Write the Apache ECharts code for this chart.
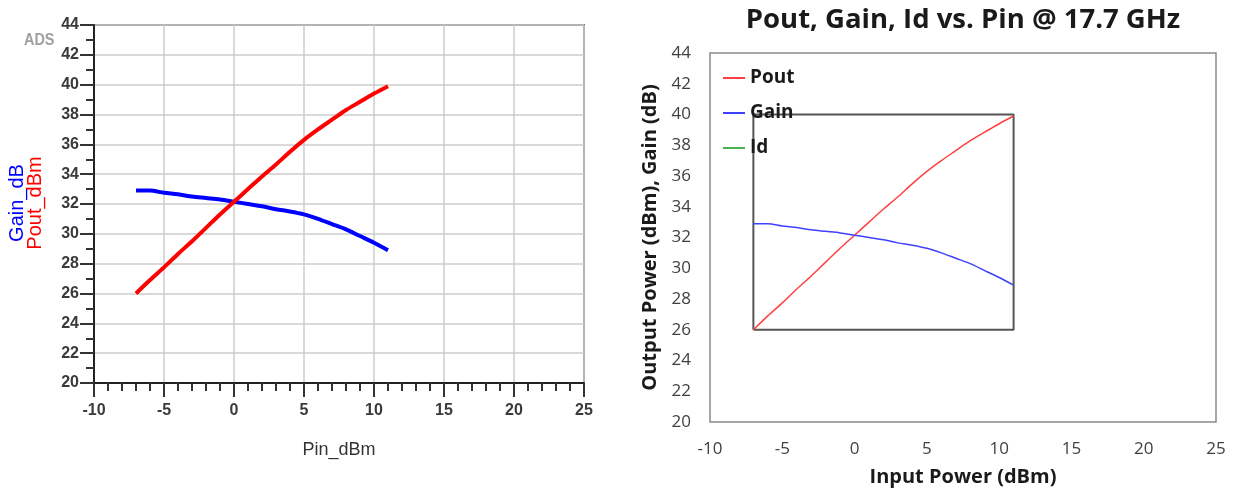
<!DOCTYPE html>
<html>
<head>
<meta charset="utf-8">
<style>
  html, body { margin: 0; padding: 0; background: #fff; }
  #chart { width: 1238px; height: 489px; }
</style>
<script src="https://cdn.jsdelivr.net/npm/echarts@6/dist/echarts.min.js"></script>
</head>
<body>
<div id="chart"></div>
<script>
// Input power sweep (dBm)
const pinDbm  = [-7, -6, -5, -4, -3, -2, -1, 0, 1, 2, 3, 4, 5, 6, 7, 8, 9, 10, 11];
// Output power (dBm)
const poutDbm = [26.0, 26.9, 27.75, 28.65, 29.5, 30.4, 31.3, 32.15, 33.0, 33.85, 34.65, 35.5, 36.3, 37.0, 37.65, 38.3, 38.85, 39.4, 39.9];
// Gain (dB)
const gainDb  = [32.9, 32.9, 32.75, 32.65, 32.5, 32.4, 32.3, 32.15, 32.0, 31.85, 31.65, 31.5, 31.3, 31.0, 30.65, 30.3, 29.85, 29.4, 28.9];
// Drain current: no samples in this sweep
const idData  = [];
// Outline box around the swept range (Pin span, level span)
const boxPin   = [-7, 11];
const boxLevel = [26, 40];

const pairs = (xs, ys) => xs.map((x, i) => [x, ys[i]]);
const boxPath = [
  [boxPin[0], boxLevel[0]], [boxPin[0], boxLevel[1]],
  [boxPin[1], boxLevel[1]], [boxPin[1], boxLevel[0]],
  [boxPin[0], boxLevel[0]]
];

const adsFont = 'Liberation Sans, Arial, sans-serif';
const xlFont  = '"Open Sans", Lato, sans-serif';

const chart = echarts.init(document.getElementById('chart'), null, { renderer: 'canvas' });

chart.setOption({
  animation: false,
  backgroundColor: '#ffffff',
  title: {
    text: 'Pout, Gain, Id vs. Pin @ 17.7 GHz',
    left: 958, top: 1, textAlign: 'center',
    textStyle: { fontFamily: xlFont, fontWeight: 'bold', fontSize: 27.5, color: '#1a1a1a' }
  },
  legend: {
    data: ['Pout', 'Gain', 'Id'],
    orient: 'vertical',
    left: 723, top: 67, padding: 0,
    icon: 'rect', itemWidth: 22, itemHeight: 2, itemGap: 13,
    textStyle: { fontFamily: xlFont, fontWeight: 'bold', fontSize: 19, lineHeight: 22, color: '#1a1a1a' }
  },
  grid: [
    { left: 94, top: 25, width: 490, height: 358, show: true, borderColor: '#6a6a6a', borderWidth: 2, containLabel: false, outerBoundsMode: 'none' },
    { left: 710, top: 53, width: 506, height: 369, show: true, borderColor: '#8a8a8a', borderWidth: 1.5, containLabel: false, outerBoundsMode: 'none' }
  ],
  xAxis: [
    {
      gridIndex: 0, type: 'value', min: -10, max: 25, interval: 5,
      name: 'Pin_dBm', nameLocation: 'middle', nameGap: 58,
      nameTextStyle: { fontFamily: adsFont, fontSize: 18, color: '#333' },
      axisLine: { onZero: false, lineStyle: { color: '#222', width: 2 } },
      axisTick: { length: 14, lineStyle: { color: '#333', width: 2 } },
      minorTick: { show: true, splitNumber: 5, length: 8, lineStyle: { color: '#333', width: 2 } },
      axisLabel: { margin: 20, fontFamily: adsFont, fontSize: 16, fontWeight: 'bold', color: '#3a3a3a' },
      splitLine: { show: true, lineStyle: { color: '#cccccc', width: 1.5 } }
    },
    {
      gridIndex: 1, type: 'value', min: -10, max: 25, interval: 5,
      name: 'Input Power (dBm)', nameLocation: 'middle', nameGap: 45,
      nameTextStyle: { fontFamily: xlFont, fontWeight: 'bold', fontSize: 20, color: '#1a1a1a' },
      axisLine: { show: false }, axisTick: { show: false },
      axisLabel: { margin: 19, fontFamily: xlFont, fontSize: 17, color: '#404040' },
      splitLine: { show: false }
    }
  ],
  yAxis: [
    {
      gridIndex: 0, type: 'value', min: 20, max: 44, interval: 2,
      axisLine: { onZero: false, lineStyle: { color: '#222', width: 2 } },
      axisTick: { length: 14, lineStyle: { color: '#333', width: 2 } },
      minorTick: { show: true, splitNumber: 2, length: 8, lineStyle: { color: '#333', width: 2 } },
      axisLabel: { margin: 15, fontFamily: adsFont, fontSize: 16, fontWeight: 'bold', color: '#3a3a3a' },
      splitLine: { show: true, lineStyle: { color: '#cccccc', width: 1.5 } }
    },
    {
      gridIndex: 1, type: 'value', min: 20, max: 44, interval: 2,
      name: 'Output Power (dBm), Gain (dB)', nameLocation: 'middle', nameGap: 50,
      nameTextStyle: { fontFamily: xlFont, fontWeight: 'bold', fontSize: 20, color: '#1a1a1a' },
      axisLine: { show: false }, axisTick: { show: false },
      axisLabel: { margin: 19, fontFamily: xlFont, fontSize: 17, color: '#404040' },
      splitLine: { show: false }
    }
  ],
  graphic: [
    { type: 'text', x: 24, y: 40, scaleX: 0.85, style: { text: 'ADS', fontFamily: adsFont, fontSize: 17, fontWeight: 'bold', fill: '#a0a0a0', textVerticalAlign: 'middle' } },
    { type: 'text', x: 17, y: 203, rotation: Math.PI / 2, style: { text: 'Gain_dB', fontFamily: adsFont, fontSize: 20, fill: '#0000ff', textAlign: 'center', textVerticalAlign: 'middle' } },
    { type: 'text', x: 35, y: 203, rotation: Math.PI / 2, style: { text: 'Pout_dBm', fontFamily: adsFont, fontSize: 20, fill: '#ff0000', textAlign: 'center', textVerticalAlign: 'middle' } }
  ],
  series: [
    {
      name: 'Gain_dB', type: 'line', xAxisIndex: 0, yAxisIndex: 0,
      data: pairs(pinDbm, gainDb), showSymbol: false, smooth: 0.3,
      lineStyle: { color: '#0000ff', width: 4 }, itemStyle: { color: '#0000ff' }
    },
    {
      name: 'Pout_dBm', type: 'line', xAxisIndex: 0, yAxisIndex: 0,
      data: pairs(pinDbm, poutDbm), showSymbol: false, smooth: 0.3,
      lineStyle: { color: '#ff0000', width: 4 }, itemStyle: { color: '#ff0000' }
    },
    {
      name: 'Box', type: 'line', xAxisIndex: 1, yAxisIndex: 1,
      data: boxPath, showSymbol: false,
      lineStyle: { color: '#555555', width: 2 }, itemStyle: { color: '#555555' }
    },
    {
      name: 'Pout', type: 'line', xAxisIndex: 1, yAxisIndex: 1,
      data: pairs(pinDbm, poutDbm), showSymbol: false, smooth: 0.3,
      lineStyle: { color: '#ff4040', width: 1.5 }, itemStyle: { color: '#ff4040' }
    },
    {
      name: 'Gain', type: 'line', xAxisIndex: 1, yAxisIndex: 1,
      data: pairs(pinDbm, gainDb), showSymbol: false, smooth: 0.3,
      lineStyle: { color: '#4040ff', width: 1.5 }, itemStyle: { color: '#4040ff' }
    },
    {
      name: 'Id', type: 'line', xAxisIndex: 1, yAxisIndex: 1,
      data: pairs(pinDbm.slice(0, idData.length), idData), showSymbol: false,
      lineStyle: { color: '#4caf50', width: 1.5 }, itemStyle: { color: '#4caf50' }
    }
  ]
});
</script>
</body>
</html>
